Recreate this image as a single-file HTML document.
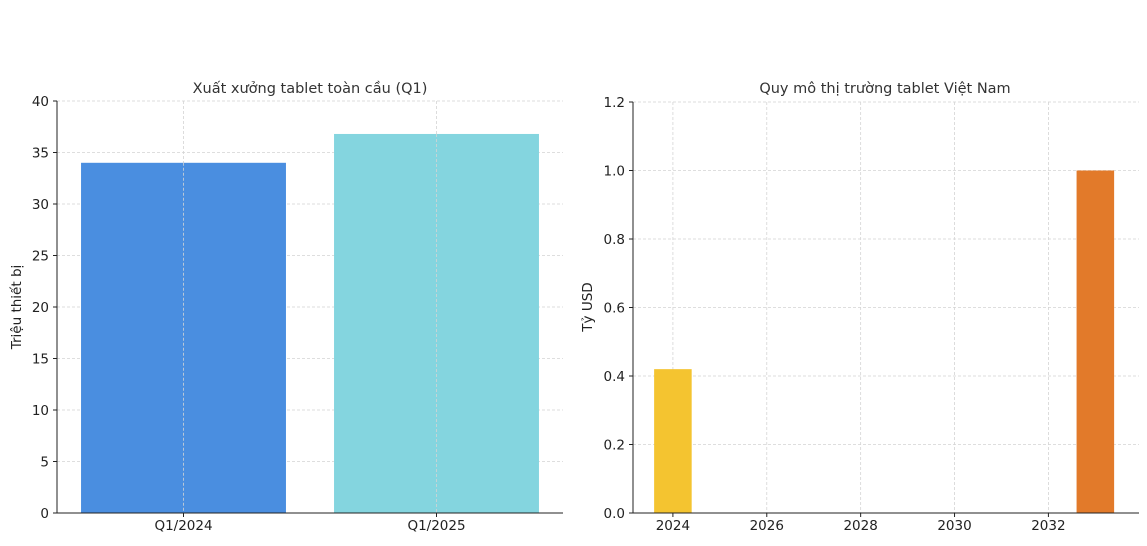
<!DOCTYPE html>
<html><head><meta charset="utf-8"><style>
body{margin:0;background:#fff;}
svg{display:block;font-family:"DejaVu Sans","Liberation Sans",sans-serif;}
.tick{font-size:13.5px;fill:#222;}
.title{font-size:14.5px;fill:#333;}
.grid{stroke:#d4d4d4;stroke-width:0.8;stroke-dasharray:3,2;}
</style></head><body>
<svg id="c" width="1147" height="546" viewBox="0 0 1147 546"></svg>
<script>
const leftCats=["Q1/2024","Q1/2025"];
const leftVals=[34,36.8];
const leftColors=["#4a8ee0","#84d5df"];
const leftTicks=[0,5,10,15,20,25,30,35,40];
const rightYears=[2024,2033];
const rightVals=[0.42,1.0];
const rightColors=["#f4c430","#e27a2a"];
const rightYTicks=[0.0,0.2,0.4,0.6,0.8,1.0,1.2];
const rightXTicks=[2024,2026,2028,2030,2032];

const svg=document.getElementById('c');
const NS='http://www.w3.org/2000/svg';
function mk(t,a,p){const e=document.createElementNS(NS,t);for(const k in a)e.setAttribute(k,a[k]);(p||svg).appendChild(e);return e;}

// Left chart
const L={x0:57,x1:563,y0:513,y1:101,max:40};
const ly=v=>L.y0-(v/L.max)*(L.y0-L.y1);
const lband=(L.x1-L.x0)/2;
const lx=i=>L.x0+lband*(i+0.5);
leftTicks.forEach(t=>{
  const g=mk('line',{x1:L.x0,x2:L.x1,y1:ly(t),y2:ly(t),class:'grid'});
  
  
  const tk=mk('line',{x1:L.x0-4,x2:L.x0,y1:ly(t),y2:ly(t),stroke:'#222'});
  
  
  const tx=mk('text',{x:L.x0-8,y:ly(t)+5,'text-anchor':'end',class:'tick'});
  tx.textContent=t;
  
  
});
leftCats.forEach((c,i)=>{
  const g=mk('line',{x1:lx(i),x2:lx(i),y1:L.y1,y2:L.y0,class:'grid'});
  
  
});
leftCats.forEach((c,i)=>{
  const w=lband*0.81;
  const b=mk('rect',{x:lx(i)-w/2,y:ly(leftVals[i]),width:w,height:L.y0-ly(leftVals[i]),fill:leftColors[i]});
  
  
  const g=mk('line',{x1:lx(i),x2:lx(i),y1:ly(leftVals[i]),y2:L.y0,class:'grid'});
  
  
  const tk=mk('line',{x1:lx(i),x2:lx(i),y1:L.y0,y2:L.y0+4,stroke:'#222'});
  
  
  const tx=mk('text',{x:lx(i),y:L.y0+17,'text-anchor':'middle',class:'tick'});
  tx.textContent=c;
  
  
});
let e=mk('line',{x1:L.x0,x2:L.x0,y1:L.y1,y2:L.y0,stroke:'#222'});

e=mk('line',{x1:L.x0,x2:L.x1,y1:L.y0,y2:L.y0,stroke:'#222'});

e=mk('text',{x:310,y:93,'text-anchor':'middle',class:'title'});e.textContent='Xuất xưởng tablet toàn cầu (Q1)';

e=mk('text',{x:21,y:307,'text-anchor':'middle',class:'tick',transform:'rotate(-90 21 307)'});e.textContent='Triệu thiết bị';


// Right chart
const R={x0:633,x1:1139,y0:513,y1:102,max:1.2,xmin:2023.15,xmax:2033.93};
const ry=v=>R.y0-(v/R.max)*(R.y0-R.y1);
const rx=v=>R.x0+(v-R.xmin)/(R.xmax-R.xmin)*(R.x1-R.x0);
rightYTicks.forEach(t=>{
  const g=mk('line',{x1:R.x0,x2:R.x1,y1:ry(t),y2:ry(t),class:'grid'});
  
  
  const tk=mk('line',{x1:R.x0-4,x2:R.x0,y1:ry(t),y2:ry(t),stroke:'#222'});
  
  
  const tx=mk('text',{x:R.x0-8,y:ry(t)+5,'text-anchor':'end',class:'tick'});
  tx.textContent=t.toFixed(1);
  
  
});
rightXTicks.forEach(t=>{
  const g=mk('line',{x1:rx(t),x2:rx(t),y1:R.y1,y2:R.y0,class:'grid'});
  
  
  const tk=mk('line',{x1:rx(t),x2:rx(t),y1:R.y0,y2:R.y0+4,stroke:'#222'});
  
  
  const tx=mk('text',{x:rx(t),y:R.y0+17,'text-anchor':'middle',class:'tick'});
  tx.textContent=t;
  
  
});
rightYears.forEach((yr,i)=>{
  const b=mk('rect',{x:rx(yr-0.4),y:ry(rightVals[i]),width:rx(yr+0.4)-rx(yr-0.4),height:R.y0-ry(rightVals[i]),fill:rightColors[i]});
  
  
});
e=mk('line',{x1:R.x0,x2:R.x0,y1:R.y1,y2:R.y0,stroke:'#222'});

e=mk('line',{x1:R.x0,x2:R.x1,y1:R.y0,y2:R.y0,stroke:'#222'});

e=mk('text',{x:885,y:93,'text-anchor':'middle',class:'title'});e.textContent='Quy mô thị trường tablet Việt Nam';

e=mk('text',{x:592,y:307,'text-anchor':'middle',class:'tick',transform:'rotate(-90 592 307)'});e.textContent='Tỷ USD';

</script>
</body></html>
